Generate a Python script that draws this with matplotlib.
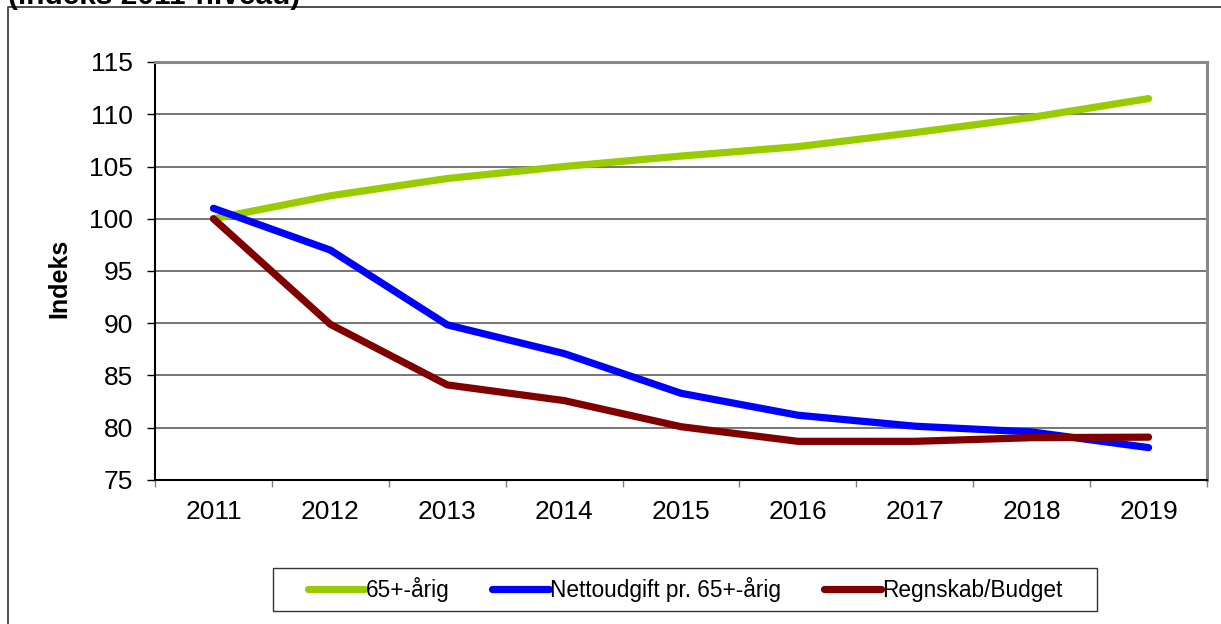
import matplotlib
matplotlib.use("Agg")
import matplotlib.pyplot as plt
from matplotlib.patches import Rectangle
from matplotlib.lines import Line2D
import numpy as np

plt.rcParams['font.family'] = ['Liberation Sans', 'DejaVu Sans']

years = ['2011', '2012', '2013', '2014', '2015', '2016', '2017', '2018', '2019']
age65 = [100.0, 102.2, 103.85, 105.0, 106.0, 106.9, 108.25, 109.7, 111.5]
netto = [101.0, 97.0, 89.85, 87.1, 83.3, 81.2, 80.15, 79.6, 78.1]
regnskab = [100.0, 89.9, 84.1, 82.6, 80.1, 78.7, 78.7, 79.05, 79.1]
series_names = ['65+-årig', 'Nettoudgift pr. 65+-årig', 'Regnskab/Budget']
series_colors = ['#99CC00', '#0000FF', '#800000']
yticks = [75, 80, 85, 90, 95, 100, 105, 110, 115]

W, H = 1221, 624
fig = plt.figure(figsize=(W / 100, H / 100), dpi=100)
fig.patch.set_facecolor('white')

def fx(px):
    return px / W

def fy(py):
    return 1 - py / H

L, R, T, B = 155, 1207, 62, 480
ax = fig.add_axes([fx(L), fy(B), (R - L) / W, (B - T) / H])

x = np.arange(len(years))
handles = []
for vals, name, col in zip([age65, netto, regnskab], series_names, series_colors):
    ln, = ax.plot(x, vals, color=col, lw=5.2, solid_capstyle='round',
                  solid_joinstyle='round', label=name, zorder=3)
    handles.append(ln)

ax.set_xlim(-0.5, len(years) - 0.5)
ax.set_ylim(75, 115)
ax.set_yticks(yticks)
ax.set_yticklabels([str(v) for v in yticks])
ax.set_xticks(x)
ax.set_xticklabels(years)
ax.set_xticks(np.arange(-0.5, len(years), 1.0), minor=True)

ax.grid(axis='y', color='#505050', lw=1.1, zorder=1)
ax.set_axisbelow(True)

ax.tick_params(axis='y', which='major', direction='out', length=6, width=1.0,
               color='black', pad=10, labelsize=19)
ax.tick_params(axis='x', which='major', length=0, pad=14.5, labelsize=19)
ax.tick_params(axis='x', which='minor', direction='out', length=5, width=1.0,
               color='#808080')

for s in ['left', 'bottom']:
    ax.spines[s].set_color('black')
    ax.spines[s].set_linewidth(1.5)
for s in ['top', 'right']:
    ax.spines[s].set_color('#888888')
    ax.spines[s].set_linewidth(2.2)

fig.text(fx(59), fy(278), 'Indeks', rotation=90, ha='center', va='center',
         fontsize=18, fontweight='bold')

# cut-off title at the top
fig.text(fx(8), fy(4), '(indeks 2011-niveau)', ha='left', va='baseline',
         fontsize=21.5, fontweight='bold')

# outer chart frame (top and left edge visible)
fig.add_artist(Line2D([fx(8), fx(8), 1.02], [-0.02, fy(7), fy(7)],
                      transform=fig.transFigure, color='#404040', lw=1.3))

# legend frame
fig.add_artist(Rectangle((fx(273), fy(611)), (1097 - 273) / W, (611 - 568) / H,
                         transform=fig.transFigure, fill=False,
                         edgecolor='#333333', lw=1.0))
fig.legend(handles=handles, labels=series_names, loc='center',
           bbox_to_anchor=(fx(685), fy(589.5)), ncol=3, frameon=False,
           fontsize=16.3, handlelength=2.5, handletextpad=0.05,
           columnspacing=1.9)

fig.savefig('out.png', dpi=100, facecolor='white')
